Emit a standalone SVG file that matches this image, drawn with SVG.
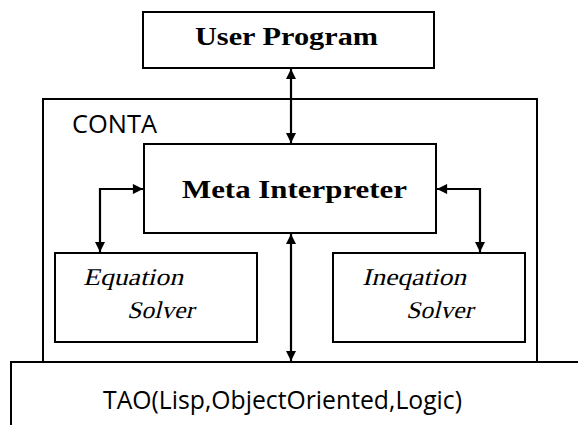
<svg xmlns="http://www.w3.org/2000/svg" width="578" height="425" viewBox="0 0 578 425">
  <style>
    .box { fill: #fff; stroke: #000; stroke-width: 2; }
    .line { fill: none; stroke: #000; stroke-width: 2; }
    .conn { fill: none; stroke: #000; stroke-width: 2.2; marker-start: url(#head); marker-end: url(#head); }
    .bold { font-family: "Liberation Serif", "DejaVu Serif", serif; font-weight: bold; font-size: 25px; fill: #000; }
    .ital { font-family: "Liberation Serif", "DejaVu Serif", serif; font-size: 24px; fill: #000; }
    .sans { font-family: "Open Sans", "DejaVu Sans", sans-serif; font-size: 25px; fill: #000; }
  </style>
  <defs>
    <marker id="head" viewBox="0 0 10 10" refX="10" refY="5" markerWidth="5.6" markerHeight="4.6" orient="auto-start-reverse" markerUnits="strokeWidth">
      <path d="M0,0 L10,5 L0,10 z" fill="#000"/>
    </marker>
  </defs>
  <rect width="578" height="425" fill="#fff"/>

  <!-- base layer -->
  <g id="tao">
    <path class="line" d="M11,425 V362 H578"/>
    <text class="sans" x="103" y="409" textLength="359" lengthAdjust="spacingAndGlyphs">TAO(Lisp,ObjectOriented,Logic)</text>
  </g>

  <g id="conta">
    <path class="line" d="M43,362 V99 H537 V362"/>
    <text class="sans" x="72" y="133" textLength="85" lengthAdjust="spacingAndGlyphs">CONTA</text>
  </g>

  <g id="user-program">
    <rect class="box" x="143" y="12" width="291" height="56"/>
    <text class="bold" x="195" y="45" textLength="183" lengthAdjust="spacingAndGlyphs">User Program</text>
  </g>

  <g id="meta-interpreter">
    <rect class="box" x="144" y="144" width="292" height="89"/>
    <text class="bold" x="182" y="198" textLength="225" lengthAdjust="spacingAndGlyphs">Meta Interpreter</text>
  </g>

  <!-- slanted serif labels -->
  <g id="equation-solver">
    <rect class="box" x="55" y="253" width="202" height="89"/>
    <text class="ital" transform="translate(83,285) skewX(-14)" textLength="100" lengthAdjust="spacingAndGlyphs">Equation</text>
    <text class="ital" transform="translate(127,318) skewX(-14)" textLength="67" lengthAdjust="spacingAndGlyphs">Solver</text>
  </g>

  <g id="ineqation-solver">
    <rect class="box" x="333" y="253" width="192" height="89"/>
    <text class="ital" transform="translate(362,285) skewX(-14)" textLength="104" lengthAdjust="spacingAndGlyphs">Ineqation</text>
    <text class="ital" transform="translate(406,318) skewX(-14)" textLength="67" lengthAdjust="spacingAndGlyphs">Solver</text>
  </g>

  <g id="connectors">
    <path class="conn" d="M291,69 V143"/>
    <path class="conn" d="M143,189 H100 V252"/>
    <path class="conn" d="M437,189 H480 V252"/>
    <path class="conn" d="M291,234 V361"/>
  </g>
</svg>
